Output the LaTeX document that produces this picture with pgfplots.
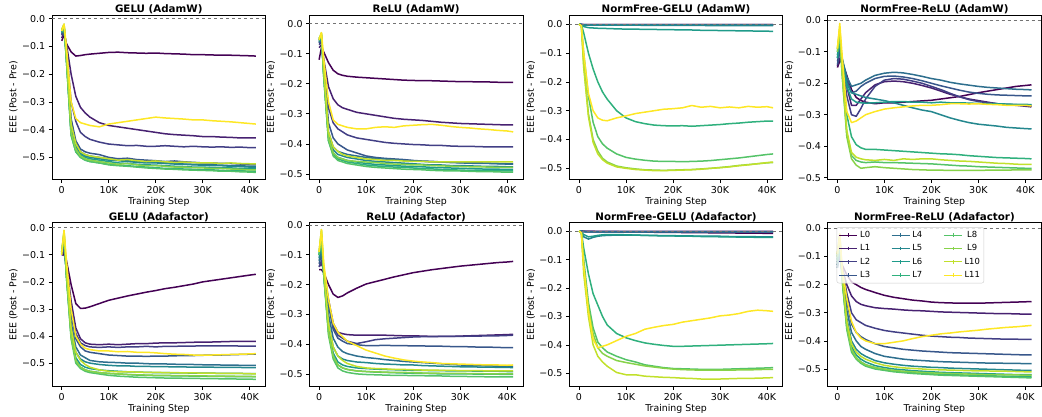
\documentclass[border=0pt]{standalone}
\usepackage{pgfplots}
\usepackage{pgfplotstable}
\pgfplotsset{compat=1.18}
\usepackage{fontspec}
\setmainfont{DejaVu Sans}
\newcommand\tickfont{\fontsize{9.5}{11}\selectfont}
\newcommand\labfont{\fontsize{9.4}{11}\selectfont}
\newcommand\titfont{\fontsize{10.3}{12}\selectfont\bfseries}
\definecolor{v0}{HTML}{440154}
\definecolor{v1}{HTML}{472171}
\definecolor{v2}{HTML}{423F85}
\definecolor{v3}{HTML}{38578B}
\definecolor{v4}{HTML}{2E6F8E}
\definecolor{v5}{HTML}{24878E}
\definecolor{v6}{HTML}{1F9B8A}
\definecolor{v7}{HTML}{2FB07D}
\definecolor{v8}{HTML}{54C368}
\definecolor{v9}{HTML}{87D349}
\definecolor{v10}{HTML}{C1E02B}
\definecolor{v11}{HTML}{FDE725}
\pgfplotscreateplotcyclelist{vir}{{v0},{v1},{v2},{v3},{v4},{v5},{v6},{v7},{v8},{v9},{v10},{v11}}

\pgfplotstableread{
x L0 L1 L2 L3 L4 L5 L6 L7 L8 L9 L10 L11
0 -0.08 -0.07 -0.06 -0.055 -0.05 -0.05 -0.05 -0.045 -0.045 -0.04 -0.04 -0.045
500 -0.06 -0.05 -0.04 -0.035 -0.03 -0.03 -0.03 -0.025 -0.025 -0.02 -0.02 -0.02
1000 -0.09 -0.09 -0.1 -0.12 -0.13 -0.14 -0.14 -0.15 -0.15 -0.14 -0.12 -0.1
2000 -0.12 -0.2 -0.3 -0.36 -0.38 -0.4 -0.41 -0.42 -0.42 -0.41 -0.38 -0.3
3000 -0.135 -0.28 -0.37 -0.44 -0.45 -0.46 -0.47 -0.48 -0.48 -0.47 -0.45 -0.36
4000 -0.133 -0.32 -0.41 -0.47 -0.48 -0.485 -0.49 -0.5 -0.5 -0.495 -0.48 -0.375
5000 -0.13 -0.34 -0.425 -0.48 -0.49 -0.495 -0.5 -0.51 -0.51 -0.505 -0.49 -0.38
6000 -0.128 -0.355 -0.435 -0.485 -0.495 -0.5 -0.505 -0.515 -0.515 -0.51 -0.495 -0.385
8000 -0.125 -0.375 -0.445 -0.49 -0.5 -0.505 -0.51 -0.52 -0.52 -0.515 -0.5 -0.39
10000 -0.122 -0.385 -0.452 -0.5 -0.505 -0.51 -0.515 -0.525 -0.527 -0.52 -0.505 -0.38
12000 -0.121 -0.39 -0.455 -0.505 -0.51 -0.512 -0.52 -0.528 -0.53 -0.525 -0.51 -0.375
14000 -0.123 -0.395 -0.458 -0.503 -0.512 -0.515 -0.522 -0.53 -0.532 -0.522 -0.508 -0.37
16000 -0.124 -0.4 -0.457 -0.508 -0.515 -0.518 -0.525 -0.533 -0.535 -0.527 -0.512 -0.365
18000 -0.125 -0.405 -0.46 -0.51 -0.517 -0.52 -0.527 -0.535 -0.538 -0.53 -0.515 -0.36
20000 -0.124 -0.41 -0.46 -0.512 -0.518 -0.52 -0.528 -0.537 -0.54 -0.53 -0.513 -0.355
22000 -0.126 -0.415 -0.458 -0.515 -0.52 -0.522 -0.53 -0.54 -0.542 -0.532 -0.516 -0.358
24000 -0.127 -0.418 -0.46 -0.513 -0.522 -0.524 -0.532 -0.54 -0.543 -0.535 -0.518 -0.36
26000 -0.128 -0.42 -0.462 -0.516 -0.524 -0.525 -0.533 -0.542 -0.545 -0.535 -0.517 -0.362
28000 -0.13 -0.422 -0.46 -0.518 -0.525 -0.527 -0.535 -0.543 -0.546 -0.537 -0.519 -0.365
30000 -0.13 -0.425 -0.462 -0.52 -0.526 -0.528 -0.535 -0.545 -0.547 -0.538 -0.52 -0.365
32000 -0.131 -0.425 -0.463 -0.52 -0.527 -0.53 -0.537 -0.545 -0.548 -0.54 -0.52 -0.368
34000 -0.132 -0.427 -0.462 -0.522 -0.528 -0.53 -0.538 -0.547 -0.55 -0.54 -0.522 -0.37
36000 -0.132 -0.428 -0.464 -0.522 -0.53 -0.532 -0.538 -0.548 -0.55 -0.542 -0.52 -0.372
38000 -0.133 -0.43 -0.463 -0.524 -0.53 -0.533 -0.54 -0.548 -0.552 -0.543 -0.522 -0.375
40000 -0.134 -0.43 -0.465 -0.525 -0.532 -0.535 -0.54 -0.55 -0.553 -0.545 -0.523 -0.378
41300 -0.135 -0.43 -0.465 -0.525 -0.532 -0.535 -0.541 -0.55 -0.554 -0.545 -0.523 -0.38
}\tA

\pgfplotstableread{
x L0 L1 L2 L3 L4 L5 L6 L7 L8 L9 L10 L11
0 -0.12 -0.08 -0.07 -0.065 -0.06 -0.06 -0.055 -0.055 -0.05 -0.05 -0.05 -0.055
500 -0.08 -0.07 -0.06 -0.05 -0.045 -0.045 -0.04 -0.04 -0.035 -0.035 -0.03 -0.03
1000 -0.095 -0.12 -0.13 -0.15 -0.16 -0.17 -0.17 -0.18 -0.18 -0.17 -0.15 -0.12
2000 -0.13 -0.21 -0.28 -0.33 -0.36 -0.37 -0.38 -0.39 -0.39 -0.38 -0.36 -0.26
3000 -0.155 -0.25 -0.33 -0.38 -0.41 -0.42 -0.43 -0.435 -0.44 -0.43 -0.41 -0.32
4000 -0.167 -0.27 -0.35 -0.4 -0.425 -0.435 -0.445 -0.45 -0.455 -0.445 -0.425 -0.335
5000 -0.172 -0.28 -0.36 -0.41 -0.43 -0.44 -0.45 -0.455 -0.46 -0.45 -0.435 -0.34
6000 -0.175 -0.285 -0.37 -0.42 -0.435 -0.445 -0.455 -0.46 -0.465 -0.455 -0.44 -0.345
8000 -0.178 -0.295 -0.38 -0.43 -0.44 -0.45 -0.46 -0.465 -0.47 -0.458 -0.445 -0.35
10000 -0.18 -0.3 -0.385 -0.44 -0.445 -0.455 -0.465 -0.47 -0.475 -0.46 -0.45 -0.35
12000 -0.182 -0.305 -0.39 -0.445 -0.448 -0.458 -0.468 -0.473 -0.478 -0.462 -0.452 -0.345
14000 -0.184 -0.31 -0.395 -0.448 -0.45 -0.46 -0.47 -0.475 -0.48 -0.465 -0.455 -0.343
16000 -0.186 -0.315 -0.398 -0.45 -0.452 -0.462 -0.472 -0.477 -0.482 -0.467 -0.455 -0.345
18000 -0.188 -0.318 -0.4 -0.452 -0.455 -0.464 -0.474 -0.478 -0.484 -0.468 -0.457 -0.34
20000 -0.189 -0.32 -0.402 -0.455 -0.456 -0.466 -0.475 -0.48 -0.485 -0.47 -0.458 -0.338
22000 -0.19 -0.322 -0.403 -0.457 -0.458 -0.468 -0.476 -0.482 -0.486 -0.47 -0.458 -0.336
24000 -0.19 -0.325 -0.405 -0.458 -0.46 -0.47 -0.478 -0.483 -0.488 -0.472 -0.46 -0.335
26000 -0.191 -0.328 -0.405 -0.46 -0.46 -0.47 -0.479 -0.485 -0.489 -0.473 -0.46 -0.338
28000 -0.192 -0.33 -0.407 -0.46 -0.462 -0.472 -0.48 -0.486 -0.49 -0.474 -0.46 -0.342
30000 -0.193 -0.332 -0.408 -0.462 -0.463 -0.472 -0.481 -0.487 -0.49 -0.475 -0.46 -0.345
32000 -0.193 -0.333 -0.408 -0.462 -0.464 -0.473 -0.482 -0.488 -0.491 -0.476 -0.46 -0.347
34000 -0.194 -0.334 -0.409 -0.463 -0.465 -0.474 -0.483 -0.488 -0.492 -0.476 -0.46 -0.35
36000 -0.194 -0.335 -0.41 -0.464 -0.465 -0.475 -0.484 -0.489 -0.492 -0.477 -0.46 -0.352
38000 -0.195 -0.336 -0.41 -0.465 -0.466 -0.475 -0.484 -0.49 -0.493 -0.478 -0.46 -0.355
40000 -0.195 -0.337 -0.41 -0.466 -0.467 -0.476 -0.485 -0.49 -0.494 -0.478 -0.46 -0.357
41300 -0.195 -0.337 -0.41 -0.466 -0.467 -0.476 -0.485 -0.49 -0.494 -0.478 -0.46 -0.36
}\tB

\pgfplotstableread{
x L0 L1 L2 L3 L4 L5 L6 L7 L8 L9 L10 L11
0 0 0 0 0 0 0 0 0 0 0 0 0
500 -0.001 -0.001 -0.001 -0.001 -0.001 -0.002 -0.002 -0.002 -0.005 -0.005 -0.005 -0.005
1000 -0.001 -0.001 -0.002 -0.002 -0.002 -0.003 -0.008 -0.03 -0.1 -0.14 -0.15 -0.1
2000 -0.001 -0.001 -0.002 -0.002 -0.002 -0.003 -0.012 -0.1 -0.25 -0.31 -0.32 -0.24
3000 -0.001 -0.001 -0.002 -0.002 -0.002 -0.003 -0.013 -0.155 -0.34 -0.4 -0.41 -0.3
4000 -0.001 -0.001 -0.002 -0.002 -0.002 -0.003 -0.014 -0.2 -0.39 -0.44 -0.45 -0.325
5000 -0.001 -0.001 -0.002 -0.002 -0.002 -0.003 -0.014 -0.235 -0.415 -0.465 -0.47 -0.333
6000 -0.001 -0.001 -0.002 -0.002 -0.002 -0.003 -0.015 -0.26 -0.43 -0.478 -0.482 -0.335
8000 -0.001 -0.001 -0.002 -0.002 -0.002 -0.003 -0.016 -0.3 -0.45 -0.492 -0.495 -0.325
10000 -0.001 -0.001 -0.002 -0.002 -0.002 -0.003 -0.017 -0.325 -0.462 -0.498 -0.5 -0.318
12000 -0.001 -0.001 -0.002 -0.002 -0.002 -0.003 -0.017 -0.338 -0.468 -0.502 -0.504 -0.31
14000 -0.001 -0.001 -0.002 -0.002 -0.002 -0.004 -0.018 -0.345 -0.472 -0.505 -0.506 -0.305
16000 -0.001 -0.001 -0.002 -0.002 -0.002 -0.004 -0.018 -0.35 -0.475 -0.506 -0.508 -0.3
18000 -0.001 -0.001 -0.002 -0.002 -0.002 -0.004 -0.019 -0.352 -0.476 -0.507 -0.508 -0.295
20000 -0.001 -0.001 -0.002 -0.002 -0.002 -0.004 -0.019 -0.353 -0.476 -0.506 -0.507 -0.293
22000 -0.001 -0.001 -0.002 -0.002 -0.002 -0.004 -0.02 -0.352 -0.477 -0.505 -0.506 -0.29
24000 -0.001 -0.001 -0.002 -0.002 -0.002 -0.004 -0.02 -0.354 -0.476 -0.504 -0.505 -0.282
26000 -0.001 -0.001 -0.002 -0.002 -0.002 -0.004 -0.021 -0.352 -0.475 -0.502 -0.503 -0.288
28000 -0.001 -0.001 -0.002 -0.002 -0.002 -0.005 -0.021 -0.35 -0.473 -0.5 -0.5 -0.285
30000 -0.001 -0.001 -0.002 -0.002 -0.002 -0.005 -0.022 -0.348 -0.47 -0.497 -0.498 -0.29
32000 -0.001 -0.001 -0.002 -0.002 -0.002 -0.005 -0.022 -0.345 -0.467 -0.494 -0.495 -0.287
34000 -0.001 -0.001 -0.002 -0.002 -0.002 -0.005 -0.023 -0.343 -0.464 -0.49 -0.491 -0.29
36000 -0.001 -0.001 -0.002 -0.002 -0.002 -0.005 -0.023 -0.34 -0.46 -0.487 -0.488 -0.285
38000 -0.001 -0.001 -0.002 -0.002 -0.002 -0.005 -0.024 -0.338 -0.456 -0.484 -0.484 -0.288
40000 -0.001 -0.001 -0.002 -0.002 -0.002 -0.005 -0.024 -0.336 -0.452 -0.481 -0.48 -0.286
41300 -0.001 -0.001 -0.002 -0.002 -0.002 -0.005 -0.025 -0.336 -0.45 -0.48 -0.478 -0.29
}\tC

\pgfplotstableread{
x L0 L1 L2 L3 L4 L5 L6 L7 L8 L9 L10 L11
0 -0.15 -0.145 -0.13 -0.14 -0.12 -0.11 -0.12 -0.1 -0.09 -0.1 -0.09 -0.09
500 -0.13 -0.12 -0.1 -0.1 -0.08 -0.07 -0.06 -0.05 -0.04 -0.03 -0.02 -0.01
1000 -0.13 -0.14 -0.14 -0.13 -0.12 -0.12 -0.13 -0.15 -0.17 -0.17 -0.15 -0.11
2000 -0.175 -0.21 -0.24 -0.19 -0.18 -0.2 -0.21 -0.3 -0.36 -0.37 -0.35 -0.29
3000 -0.22 -0.27 -0.3 -0.23 -0.21 -0.23 -0.25 -0.37 -0.43 -0.44 -0.42 -0.325
4000 -0.245 -0.27 -0.305 -0.225 -0.205 -0.235 -0.26 -0.395 -0.445 -0.46 -0.435 -0.32
5000 -0.255 -0.25 -0.28 -0.21 -0.2 -0.24 -0.262 -0.405 -0.45 -0.47 -0.44 -0.31
6000 -0.26 -0.23 -0.25 -0.2 -0.19 -0.245 -0.263 -0.41 -0.452 -0.468 -0.443 -0.3
8000 -0.265 -0.205 -0.21 -0.185 -0.175 -0.25 -0.262 -0.41 -0.45 -0.465 -0.445 -0.29
10000 -0.262 -0.195 -0.19 -0.178 -0.168 -0.255 -0.26 -0.412 -0.452 -0.468 -0.442 -0.282
12000 -0.262 -0.193 -0.185 -0.177 -0.165 -0.262 -0.258 -0.414 -0.452 -0.47 -0.445 -0.278
14000 -0.26 -0.195 -0.187 -0.18 -0.167 -0.27 -0.258 -0.416 -0.453 -0.472 -0.44 -0.275
16000 -0.258 -0.2 -0.193 -0.185 -0.172 -0.278 -0.26 -0.418 -0.454 -0.474 -0.442 -0.272
18000 -0.256 -0.207 -0.2 -0.192 -0.178 -0.285 -0.26 -0.42 -0.455 -0.475 -0.44 -0.27
20000 -0.254 -0.215 -0.21 -0.2 -0.185 -0.29 -0.262 -0.422 -0.456 -0.476 -0.44 -0.27
22000 -0.25 -0.225 -0.22 -0.208 -0.19 -0.3 -0.26 -0.424 -0.458 -0.476 -0.443 -0.268
24000 -0.246 -0.235 -0.232 -0.215 -0.197 -0.31 -0.262 -0.425 -0.46 -0.477 -0.445 -0.265
26000 -0.242 -0.243 -0.243 -0.222 -0.202 -0.318 -0.262 -0.427 -0.462 -0.477 -0.447 -0.265
28000 -0.236 -0.25 -0.252 -0.228 -0.206 -0.325 -0.263 -0.43 -0.463 -0.477 -0.448 -0.266
30000 -0.23 -0.255 -0.258 -0.232 -0.21 -0.33 -0.264 -0.432 -0.465 -0.477 -0.45 -0.265
32000 -0.225 -0.26 -0.262 -0.235 -0.213 -0.333 -0.265 -0.434 -0.466 -0.476 -0.452 -0.267
34000 -0.22 -0.265 -0.265 -0.237 -0.215 -0.336 -0.265 -0.436 -0.467 -0.476 -0.454 -0.268
36000 -0.215 -0.268 -0.267 -0.238 -0.217 -0.34 -0.266 -0.437 -0.468 -0.476 -0.455 -0.27
38000 -0.21 -0.27 -0.268 -0.239 -0.219 -0.342 -0.267 -0.438 -0.469 -0.475 -0.457 -0.27
40000 -0.207 -0.273 -0.27 -0.24 -0.22 -0.344 -0.267 -0.439 -0.47 -0.475 -0.458 -0.27
41300 -0.205 -0.275 -0.27 -0.24 -0.221 -0.345 -0.268 -0.44 -0.47 -0.475 -0.458 -0.272
}\tD

\pgfplotstableread{
x L0 L1 L2 L3 L4 L5 L6 L7 L8 L9 L10 L11
0 -0.1 -0.1 -0.1 -0.095 -0.1 -0.09 -0.095 -0.09 -0.09 -0.09 -0.09 -0.1
500 -0.1 -0.09 -0.08 -0.07 -0.06 -0.05 -0.04 -0.03 -0.02 -0.015 -0.01 -0.01
1000 -0.12 -0.13 -0.14 -0.15 -0.16 -0.17 -0.17 -0.18 -0.18 -0.17 -0.15 -0.12
2000 -0.21 -0.27 -0.3 -0.32 -0.35 -0.37 -0.39 -0.4 -0.41 -0.4 -0.37 -0.3
3000 -0.28 -0.37 -0.39 -0.41 -0.44 -0.46 -0.48 -0.49 -0.5 -0.49 -0.46 -0.4
4000 -0.298 -0.41 -0.425 -0.44 -0.47 -0.485 -0.505 -0.515 -0.52 -0.515 -0.49 -0.43
5000 -0.297 -0.425 -0.435 -0.455 -0.48 -0.495 -0.515 -0.525 -0.53 -0.525 -0.505 -0.445
6000 -0.292 -0.43 -0.44 -0.46 -0.49 -0.5 -0.52 -0.53 -0.535 -0.53 -0.515 -0.45
8000 -0.28 -0.432 -0.442 -0.465 -0.495 -0.505 -0.525 -0.535 -0.54 -0.535 -0.525 -0.455
10000 -0.268 -0.43 -0.44 -0.47 -0.497 -0.508 -0.528 -0.538 -0.545 -0.538 -0.53 -0.455
12000 -0.26 -0.432 -0.442 -0.472 -0.498 -0.51 -0.53 -0.54 -0.548 -0.54 -0.532 -0.458
14000 -0.252 -0.43 -0.44 -0.474 -0.5 -0.51 -0.532 -0.542 -0.55 -0.542 -0.532 -0.457
16000 -0.245 -0.428 -0.44 -0.474 -0.5 -0.512 -0.533 -0.544 -0.552 -0.543 -0.533 -0.46
18000 -0.238 -0.428 -0.438 -0.475 -0.502 -0.512 -0.534 -0.545 -0.553 -0.544 -0.534 -0.46
20000 -0.232 -0.426 -0.44 -0.474 -0.503 -0.513 -0.535 -0.546 -0.554 -0.545 -0.534 -0.462
22000 -0.225 -0.425 -0.438 -0.474 -0.503 -0.513 -0.535 -0.546 -0.555 -0.545 -0.535 -0.465
24000 -0.22 -0.425 -0.438 -0.473 -0.504 -0.514 -0.536 -0.547 -0.555 -0.546 -0.535 -0.467
26000 -0.214 -0.424 -0.437 -0.472 -0.505 -0.514 -0.536 -0.547 -0.556 -0.546 -0.536 -0.468
28000 -0.208 -0.423 -0.437 -0.472 -0.505 -0.515 -0.537 -0.548 -0.556 -0.547 -0.536 -0.47
30000 -0.2 -0.422 -0.436 -0.471 -0.506 -0.515 -0.537 -0.548 -0.557 -0.547 -0.537 -0.47
32000 -0.195 -0.422 -0.436 -0.47 -0.506 -0.515 -0.537 -0.549 -0.557 -0.548 -0.537 -0.47
34000 -0.19 -0.421 -0.436 -0.47 -0.507 -0.516 -0.538 -0.549 -0.558 -0.548 -0.538 -0.469
36000 -0.185 -0.42 -0.436 -0.469 -0.507 -0.516 -0.538 -0.55 -0.558 -0.548 -0.538 -0.468
38000 -0.18 -0.42 -0.437 -0.468 -0.508 -0.516 -0.538 -0.55 -0.559 -0.549 -0.538 -0.467
40000 -0.175 -0.42 -0.437 -0.467 -0.508 -0.517 -0.539 -0.55 -0.559 -0.549 -0.539 -0.466
41300 -0.172 -0.42 -0.437 -0.467 -0.508 -0.517 -0.539 -0.55 -0.56 -0.55 -0.54 -0.465
}\tE

\pgfplotstableread{
x L0 L1 L2 L3 L4 L5 L6 L7 L8 L9 L10 L11
0 -0.15 -0.14 -0.14 -0.13 -0.12 -0.11 -0.1 -0.1 -0.1 -0.09 -0.09 -0.09
500 -0.15 -0.13 -0.12 -0.1 -0.08 -0.06 -0.05 -0.04 -0.03 -0.02 -0.015 -0.015
1000 -0.16 -0.15 -0.15 -0.15 -0.15 -0.16 -0.17 -0.17 -0.17 -0.16 -0.15 -0.13
2000 -0.2 -0.25 -0.26 -0.27 -0.3 -0.33 -0.35 -0.36 -0.37 -0.36 -0.33 -0.25
3000 -0.232 -0.33 -0.34 -0.35 -0.38 -0.41 -0.43 -0.44 -0.45 -0.44 -0.41 -0.33
4000 -0.243 -0.36 -0.37 -0.38 -0.41 -0.44 -0.46 -0.47 -0.48 -0.47 -0.44 -0.36
5000 -0.238 -0.365 -0.38 -0.39 -0.425 -0.45 -0.47 -0.48 -0.49 -0.48 -0.455 -0.375
6000 -0.228 -0.368 -0.39 -0.398 -0.432 -0.455 -0.475 -0.485 -0.495 -0.485 -0.465 -0.39
8000 -0.212 -0.37 -0.398 -0.402 -0.44 -0.46 -0.48 -0.49 -0.5 -0.49 -0.475 -0.405
10000 -0.198 -0.37 -0.392 -0.405 -0.445 -0.462 -0.482 -0.492 -0.502 -0.492 -0.48 -0.42
12000 -0.19 -0.37 -0.385 -0.405 -0.448 -0.465 -0.484 -0.494 -0.503 -0.493 -0.482 -0.43
14000 -0.182 -0.37 -0.382 -0.404 -0.452 -0.467 -0.485 -0.495 -0.504 -0.494 -0.483 -0.44
16000 -0.174 -0.371 -0.38 -0.405 -0.455 -0.468 -0.486 -0.496 -0.505 -0.495 -0.485 -0.447
18000 -0.167 -0.372 -0.378 -0.405 -0.458 -0.47 -0.487 -0.497 -0.505 -0.495 -0.485 -0.453
20000 -0.16 -0.372 -0.376 -0.406 -0.46 -0.47 -0.488 -0.498 -0.506 -0.496 -0.486 -0.457
22000 -0.155 -0.373 -0.375 -0.406 -0.462 -0.472 -0.488 -0.498 -0.506 -0.497 -0.487 -0.46
24000 -0.15 -0.374 -0.375 -0.407 -0.464 -0.473 -0.489 -0.499 -0.507 -0.497 -0.487 -0.462
26000 -0.146 -0.374 -0.374 -0.407 -0.466 -0.474 -0.489 -0.5 -0.507 -0.498 -0.488 -0.465
28000 -0.142 -0.374 -0.374 -0.408 -0.468 -0.475 -0.49 -0.5 -0.508 -0.498 -0.488 -0.466
30000 -0.138 -0.373 -0.374 -0.408 -0.47 -0.476 -0.49 -0.5 -0.508 -0.498 -0.489 -0.467
32000 -0.135 -0.372 -0.373 -0.409 -0.471 -0.476 -0.49 -0.5 -0.509 -0.499 -0.489 -0.468
34000 -0.132 -0.371 -0.373 -0.41 -0.472 -0.477 -0.491 -0.501 -0.509 -0.499 -0.489 -0.469
36000 -0.129 -0.37 -0.372 -0.41 -0.473 -0.477 -0.491 -0.501 -0.51 -0.5 -0.49 -0.47
38000 -0.126 -0.369 -0.372 -0.411 -0.474 -0.478 -0.491 -0.501 -0.51 -0.5 -0.49 -0.47
40000 -0.124 -0.368 -0.371 -0.412 -0.475 -0.478 -0.492 -0.502 -0.51 -0.5 -0.49 -0.471
41300 -0.122 -0.367 -0.37 -0.412 -0.475 -0.479 -0.492 -0.502 -0.51 -0.5 -0.49 -0.47
}\tF

\pgfplotstableread{
x L0 L1 L2 L3 L4 L5 L6 L7 L8 L9 L10 L11
0 0 0 0 0 0 0 0 0 0 0 0 0
500 0 0 0 0 0 -0.005 -0.004 -0.002 -0.005 -0.005 -0.005 -0.005
1000 -0.001 -0.001 -0.001 -0.002 -0.002 -0.02 -0.012 -0.06 -0.1 -0.12 -0.15 -0.12
2000 -0.001 -0.001 -0.002 -0.002 -0.003 -0.028 -0.02 -0.15 -0.25 -0.27 -0.3 -0.28
3000 -0.001 -0.001 -0.002 -0.003 -0.003 -0.022 -0.018 -0.22 -0.34 -0.36 -0.4 -0.38
4000 -0.002 -0.001 -0.002 -0.003 -0.003 -0.018 -0.015 -0.26 -0.39 -0.41 -0.44 -0.41
5000 -0.002 -0.001 -0.002 -0.003 -0.003 -0.016 -0.013 -0.3 -0.41 -0.43 -0.46 -0.405
6000 -0.002 -0.001 -0.002 -0.003 -0.003 -0.015 -0.012 -0.33 -0.425 -0.44 -0.475 -0.4
8000 -0.002 -0.001 -0.002 -0.003 -0.003 -0.014 -0.012 -0.36 -0.44 -0.455 -0.497 -0.385
10000 -0.003 -0.001 -0.002 -0.003 -0.003 -0.014 -0.013 -0.375 -0.452 -0.462 -0.505 -0.37
12000 -0.003 -0.001 -0.002 -0.003 -0.003 -0.014 -0.014 -0.385 -0.46 -0.468 -0.505 -0.36
14000 -0.003 -0.001 -0.002 -0.003 -0.003 -0.015 -0.015 -0.393 -0.47 -0.474 -0.51 -0.345
16000 -0.004 -0.001 -0.002 -0.003 -0.003 -0.015 -0.016 -0.398 -0.475 -0.478 -0.512 -0.338
18000 -0.004 -0.001 -0.002 -0.003 -0.003 -0.016 -0.017 -0.402 -0.48 -0.482 -0.514 -0.332
20000 -0.004 -0.001 -0.002 -0.003 -0.003 -0.016 -0.017 -0.405 -0.483 -0.485 -0.515 -0.328
22000 -0.005 -0.001 -0.002 -0.003 -0.003 -0.017 -0.018 -0.405 -0.484 -0.487 -0.517 -0.32
24000 -0.005 -0.001 -0.002 -0.003 -0.003 -0.017 -0.018 -0.404 -0.485 -0.488 -0.518 -0.315
26000 -0.005 -0.001 -0.002 -0.003 -0.003 -0.018 -0.019 -0.403 -0.486 -0.489 -0.52 -0.31
28000 -0.006 -0.001 -0.002 -0.003 -0.003 -0.018 -0.019 -0.402 -0.486 -0.489 -0.52 -0.305
30000 -0.006 -0.001 -0.002 -0.003 -0.003 -0.018 -0.02 -0.401 -0.486 -0.489 -0.52 -0.298
32000 -0.006 -0.001 -0.002 -0.003 -0.003 -0.019 -0.02 -0.4 -0.485 -0.489 -0.519 -0.295
34000 -0.007 -0.001 -0.002 -0.003 -0.003 -0.019 -0.021 -0.399 -0.484 -0.488 -0.518 -0.29
36000 -0.007 -0.001 -0.002 -0.003 -0.003 -0.019 -0.021 -0.398 -0.483 -0.488 -0.518 -0.282
38000 -0.007 -0.001 -0.002 -0.003 -0.003 -0.02 -0.022 -0.397 -0.482 -0.487 -0.517 -0.278
40000 -0.008 -0.001 -0.002 -0.003 -0.003 -0.02 -0.022 -0.396 -0.481 -0.486 -0.516 -0.28
41300 -0.008 -0.001 -0.002 -0.003 -0.003 -0.02 -0.022 -0.395 -0.48 -0.486 -0.515 -0.282
}\tG

\pgfplotstableread{
x L0 L1 L2 L3 L4 L5 L6 L7 L8 L9 L10 L11
0 -0.12 -0.13 -0.14 -0.13 -0.14 -0.13 -0.12 -0.11 -0.1 -0.1 -0.09 -0.09
500 -0.1 -0.1 -0.09 -0.08 -0.07 -0.06 -0.05 -0.04 -0.03 -0.02 -0.02 -0.02
1000 -0.13 -0.14 -0.14 -0.15 -0.15 -0.16 -0.17 -0.18 -0.18 -0.17 -0.15 -0.14
2000 -0.165 -0.2 -0.23 -0.26 -0.29 -0.32 -0.34 -0.35 -0.36 -0.35 -0.33 -0.25
3000 -0.19 -0.24 -0.3 -0.34 -0.37 -0.4 -0.42 -0.43 -0.44 -0.43 -0.41 -0.33
4000 -0.2 -0.26 -0.325 -0.37 -0.4 -0.43 -0.45 -0.46 -0.465 -0.46 -0.44 -0.37
5000 -0.21 -0.27 -0.335 -0.385 -0.42 -0.445 -0.465 -0.475 -0.48 -0.475 -0.455 -0.39
6000 -0.217 -0.275 -0.345 -0.395 -0.43 -0.455 -0.475 -0.485 -0.49 -0.485 -0.465 -0.4
8000 -0.228 -0.282 -0.355 -0.41 -0.445 -0.47 -0.488 -0.495 -0.5 -0.495 -0.478 -0.41
10000 -0.238 -0.285 -0.363 -0.42 -0.455 -0.478 -0.495 -0.502 -0.505 -0.5 -0.487 -0.41
12000 -0.245 -0.287 -0.368 -0.425 -0.46 -0.483 -0.5 -0.507 -0.51 -0.505 -0.492 -0.405
14000 -0.25 -0.29 -0.372 -0.43 -0.465 -0.487 -0.503 -0.51 -0.513 -0.508 -0.496 -0.4
16000 -0.255 -0.292 -0.376 -0.433 -0.468 -0.49 -0.506 -0.513 -0.516 -0.51 -0.498 -0.392
18000 -0.258 -0.293 -0.38 -0.436 -0.47 -0.492 -0.508 -0.515 -0.518 -0.512 -0.5 -0.385
20000 -0.262 -0.295 -0.383 -0.438 -0.472 -0.494 -0.51 -0.517 -0.52 -0.514 -0.502 -0.38
22000 -0.264 -0.297 -0.385 -0.44 -0.474 -0.495 -0.512 -0.519 -0.522 -0.515 -0.503 -0.375
24000 -0.265 -0.298 -0.387 -0.442 -0.475 -0.497 -0.513 -0.52 -0.523 -0.516 -0.504 -0.372
26000 -0.266 -0.299 -0.388 -0.443 -0.476 -0.498 -0.514 -0.521 -0.524 -0.517 -0.505 -0.368
28000 -0.266 -0.3 -0.39 -0.444 -0.477 -0.499 -0.515 -0.522 -0.525 -0.518 -0.506 -0.365
30000 -0.266 -0.301 -0.391 -0.445 -0.478 -0.5 -0.516 -0.523 -0.526 -0.519 -0.507 -0.362
32000 -0.265 -0.302 -0.392 -0.446 -0.479 -0.501 -0.517 -0.524 -0.527 -0.52 -0.507 -0.358
34000 -0.264 -0.303 -0.393 -0.447 -0.479 -0.502 -0.518 -0.525 -0.528 -0.52 -0.508 -0.355
36000 -0.263 -0.303 -0.394 -0.448 -0.48 -0.503 -0.519 -0.526 -0.529 -0.521 -0.508 -0.352
38000 -0.262 -0.304 -0.394 -0.449 -0.48 -0.504 -0.52 -0.527 -0.53 -0.521 -0.509 -0.35
40000 -0.261 -0.305 -0.395 -0.45 -0.481 -0.505 -0.52 -0.528 -0.531 -0.522 -0.51 -0.347
41300 -0.26 -0.305 -0.395 -0.45 -0.481 -0.505 -0.52 -0.528 -0.532 -0.522 -0.51 -0.345
}\tH

\pgfplotsset{
  eee/.style={
    scale only axis, width=213.5pt, height=164pt, anchor=south west,
    xmin=-2065, xmax=43365,
    scaled x ticks=false, scaled y ticks=false,
    xtick={0,10000,20000,30000,40000}, xticklabels={0,10K,20K,30K,40K},
    ytick={-0.5,-0.4,-0.3,-0.2,-0.1,0},
    yticklabels={−0.5,−0.4,−0.3,−0.2,−0.1,0.0},
    tick align=outside, tick pos=left, major tick length=3.3pt,
    tick style={black, line width=0.7pt},
    axis line style={line width=0.8pt},
    ticklabel style={font=\tickfont},
    xlabel={Training Step}, ylabel={EEE (Post - Pre)},
    label style={font=\labfont},
    xlabel style={yshift=3pt},
    ylabel style={yshift=-2.5pt},
    every axis title shift=0pt,
    title style={font=\titfont, at={(0.5,1)}, anchor=base, yshift=2.5pt},
    cycle list name=vir,
    every axis plot/.append style={line width=1.5pt, mark=none, line join=round},
  },
  zl/.style={forget plot, black!55, dashed, line width=0.5pt},
}

\begin{document}
\begin{tikzpicture}
\useasboundingbox (0,0) rectangle (1042pt,417pt);
% Row 1
\begin{axis}[eee, at={(52pt,237.7pt)}, ymin=-0.579, ymax=0.0119, title={GELU (AdamW)}]
\pgfplotsinvokeforeach{0,...,11}{\addplot table[x=x,y=L#1]{\tA};}
\addplot[zl] coordinates {(-2065,0) (43365,0)};
\end{axis}
\begin{axis}[eee, at={(309.4pt,237.7pt)}, ymin=-0.5176, ymax=0.0276, title={ReLU (AdamW)}]
\pgfplotsinvokeforeach{0,...,11}{\addplot table[x=x,y=L#1]{\tB};}
\addplot[zl] coordinates {(-2065,0) (43365,0)};
\end{axis}
\begin{axis}[eee, at={(569.3pt,237.7pt)}, ymin=-0.538, ymax=0.031, title={NormFree-GELU (AdamW)}]
\pgfplotsinvokeforeach{0,...,11}{\addplot table[x=x,y=L#1]{\tC};}
\addplot[zl] coordinates {(-2065,0) (43365,0)};
\end{axis}
\begin{axis}[eee, at={(827.7pt,237.7pt)}, ymin=-0.505, ymax=0.0159, title={NormFree-ReLU (AdamW)}]
\pgfplotsinvokeforeach{0,...,11}{\addplot table[x=x,y=L#1]{\tD};}
\addplot[zl] coordinates {(-2065,0) (43365,0)};
\end{axis}
% Row 2
\begin{axis}[eee, at={(52pt,30.3pt)}, ymin=-0.587, ymax=0.0185, title={GELU (Adafactor)}]
\pgfplotsinvokeforeach{0,...,11}{\addplot table[x=x,y=L#1]{\tE};}
\addplot[zl] coordinates {(-2065,0) (43365,0)};
\end{axis}
\begin{axis}[eee, at={(309.4pt,30.3pt)}, ymin=-0.543, ymax=0.008, title={ReLU (Adafactor)}]
\pgfplotsinvokeforeach{0,...,11}{\addplot table[x=x,y=L#1]{\tF};}
\addplot[zl] coordinates {(-2065,0) (43365,0)};
\end{axis}
\begin{axis}[eee, at={(569.3pt,30.3pt)}, ymin=-0.547, ymax=0.0296, title={NormFree-GELU (Adafactor)}]
\pgfplotsinvokeforeach{0,...,11}{\addplot table[x=x,y=L#1]{\tG};}
\addplot[zl] coordinates {(-2065,0) (43365,0)};
\end{axis}
\begin{axis}[eee, at={(827.7pt,30.3pt)}, ymin=-0.563, ymax=0.0204, title={NormFree-ReLU (Adafactor)},
  legend entries={L0,L1,L2,L3,L4,L5,L6,L7,L8,L9,L10,L11},
  legend columns=4, transpose legend,
  legend image code/.code={\draw[#1, line width=1.2pt] (0pt,0pt) -- (18pt,0pt); \draw[#1, line width=0.8pt] plot[only marks, mark=+, mark size=1.8pt] coordinates {(9pt,0pt)};},
  legend style={at={(0.042,0.973)}, anchor=north west, font=\fontsize{8.4}{9.5}\selectfont,
    draw=black!20, rounded corners=2pt, fill=white, fill opacity=0.8, text opacity=1,
    inner sep=2pt, row sep=1.6pt, /tikz/every even column/.append style={column sep=19pt}},
  ]
\pgfplotsinvokeforeach{0,...,11}{\addplot table[x=x,y=L#1]{\tH};}
\addplot[zl] coordinates {(-2065,0) (43365,0)};
\end{axis}
\end{tikzpicture}
\end{document}
